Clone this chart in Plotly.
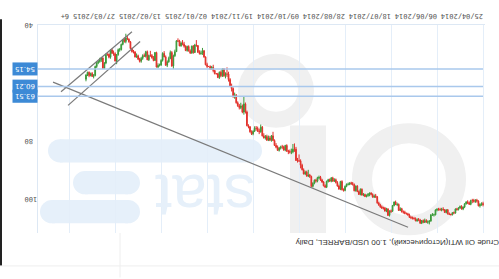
import plotly.graph_objects as go

# Daily WTI candles, index 0 = 25/04/2014 (weekday bars), last = 23/04/2015
closes = [
 100.6,100.8,101.3,99.7,99.4,99.8,99.5,99.5,100.8,100.3,
 100.0,100.6,101.7,102.4,101.5,102.0,102.6,102.4,103.8,103.7,
 104.4,104.3,104.1,102.7,103.6,102.7,102.5,102.7,102.6,102.5,
 102.7,104.4,104.4,104.4,106.5,106.9,106.9,106.4,107.0,106.4,
 107.3,106.2,106.0,106.5,105.8,105.7,105.4,105.3,104.5,104.1,
 104.0,103.5,103.4,102.3,102.9,100.8,100.9,100.0,101.2,103.2,
 103.1,104.6,102.4,103.1,102.1,102.1,101.7,101.0,100.3,98.2,
 97.9,98.3,97.4,96.9,97.3,97.7,98.1,97.4,97.6,95.6,
 97.4,96.4,94.5,96.1,94.0,93.7,93.4,93.9,93.9,94.6,
 96.0,95.8,92.9,95.5,94.5,93.3,92.3,92.8,91.7,92.8,
 92.3,92.9,94.9,94.4,93.1,92.4,91.5,91.6,92.8,92.5,
 93.5,94.6,91.2,90.7,91.0,89.7,90.3,88.9,87.3,85.8,
 85.8,85.7,81.8,81.8,82.7,82.8,82.7,82.5,80.5,82.1,
 81.0,81.0,81.4,82.2,81.1,80.5,78.8,77.2,78.7,77.9,
 78.7,77.4,77.9,77.2,74.2,75.8,75.6,74.6,74.6,75.6,
 76.5,75.8,74.1,73.7,69.0,66.2,69.0,66.9,67.4,66.8,
 65.8,63.1,63.8,60.9,60.0,57.8,55.9,55.9,56.5,54.1,
 56.5,55.3,57.1,55.8,55.8,54.7,53.6,54.1,53.3,53.3,
 52.7,50.0,47.9,48.7,48.8,48.4,46.1,45.9,48.5,46.3,
 48.7,48.0,46.4,47.8,46.3,45.6,45.2,46.2,44.5,44.5,
 48.2,49.6,53.1,48.5,50.5,51.7,52.9,50.0,48.8,51.2,
 52.8,52.9,53.5,48.5,51.2,50.3,49.5,49.5,51.0,48.2,
 49.8,49.6,50.5,51.5,50.8,49.6,50.0,48.3,48.2,47.1,
 44.8,43.9,43.5,44.7,44.0,45.7,47.5,47.5,49.2,51.4,
 48.9,48.7,47.6,50.1,49.1,49.1,52.1,54.0,50.4,50.8,
 51.6,51.9,53.3,56.4,56.7,55.7,56.4,55.3,56.2,57.7,
]
opens = [100.9] + closes[:-1]
highs = [
 101.5,101.3,101.9,101.5,100.2,100.3,100.2,100.4,101.1,101.0,
 100.7,100.9,102.1,102.8,102.6,102.3,102.9,103.0,104.0,104.2,
 104.6,104.6,104.5,104.3,103.9,103.7,103.0,103.2,103.0,103.0,
 103.2,104.6,105.0,104.8,106.8,107.7,107.5,107.2,107.2,107.3,
 107.6,107.5,106.6,106.8,106.6,106.0,106.0,105.9,105.4,104.7,
 104.3,104.2,104.0,103.6,103.1,103.0,101.4,101.0,101.5,103.4,
 103.8,105.0,104.8,103.5,103.3,102.6,102.4,102.0,101.3,100.6,
 98.6,98.6,98.5,97.7,98.0,98.2,98.4,98.3,98.0,97.8,
 97.7,97.5,96.6,96.4,96.3,94.3,94.1,94.2,94.3,94.9,
 96.3,96.4,96.0,95.9,95.8,94.7,93.6,93.1,93.0,93.2,
 93.1,93.3,95.2,95.1,94.6,93.4,92.7,92.1,93.2,93.3,
 93.9,95.0,94.8,91.7,91.4,91.3,90.7,90.5,89.1,88.4,
 86.2,86.4,85.8,82.7,83.2,83.5,83.3,83.5,82.7,82.5,
 82.3,81.7,81.9,82.6,82.4,81.5,80.7,79.0,79.2,79.0,
 79.0,78.9,78.5,78.1,77.4,76.1,76.6,75.8,75.4,75.9,
 77.0,76.9,76.1,74.6,73.9,69.5,69.9,69.4,68.0,68.1,
 67.2,66.1,64.4,64.0,61.9,60.3,58.5,56.9,57.4,56.9,
 56.9,57.0,57.6,57.3,56.0,56.0,55.3,54.4,54.5,53.5,
 53.8,52.9,50.3,49.3,49.3,49.2,48.6,46.5,48.6,48.9,
 48.8,48.9,48.1,48.2,48.0,46.8,46.0,46.5,46.3,44.9,
 48.3,50.0,54.2,53.4,50.8,52.0,53.5,53.0,50.1,51.6,
 53.1,53.3,53.9,53.6,51.4,51.5,50.6,50.0,51.4,51.1,
 50.2,50.0,51.0,52.0,51.9,51.0,50.3,50.2,48.8,48.5,
 47.3,45.1,44.2,45.3,45.1,46.0,47.8,48.2,49.6,52.5,
 51.6,49.6,49.0,50.6,50.5,49.6,52.5,54.2,54.2,51.7,
 52.0,52.5,53.8,56.7,57.4,56.9,56.7,57.0,56.6,58.4,
]
lows = [
 99.9,100.1,100.4,99.4,98.9,99.0,98.9,98.9,99.2,99.8,
 99.4,99.7,100.4,101.5,101.1,101.2,101.8,102.0,102.2,103.3,
 103.5,104.0,103.6,102.4,102.5,102.4,101.8,102.0,102.0,102.0,
 102.1,102.6,104.0,103.8,104.2,106.2,106.3,105.9,105.7,106.0,
 106.2,105.8,105.5,105.6,105.3,105.1,105.0,104.8,104.0,103.7,
 103.6,103.0,102.9,102.0,101.8,100.5,100.2,99.5,99.8,101.0,
 102.6,102.9,102.1,102.0,101.7,101.6,101.2,100.6,99.9,97.9,
 97.2,97.4,97.0,96.6,96.7,96.9,97.4,97.1,96.9,95.3,
 95.3,96.0,94.2,94.3,93.6,93.1,93.0,93.2,93.3,93.6,
 94.3,95.3,92.5,92.7,94.0,92.8,91.9,91.8,91.3,91.4,
 91.9,92.0,92.6,93.9,92.8,92.0,91.0,90.9,91.3,92.0,
 92.2,93.2,90.9,90.3,88.9,89.2,89.2,88.4,86.8,85.3,
 83.6,84.8,81.0,79.8,80.0,81.6,81.9,82.0,80.1,80.3,
 80.6,80.3,80.6,81.0,80.5,79.7,78.4,75.8,76.9,77.2,
 77.1,76.8,76.9,76.3,73.8,73.3,74.7,74.0,73.8,73.9,
 75.3,75.3,73.8,73.2,68.5,65.7,63.7,66.4,65.8,66.2,
 65.3,62.8,62.3,60.5,59.2,57.3,55.1,53.6,55.3,53.9,
 54.0,54.7,55.0,55.5,55.6,54.4,52.7,53.1,52.9,53.1,
 52.0,49.8,47.6,46.9,47.8,47.7,45.9,44.2,45.5,45.9,
 46.1,47.4,46.0,46.1,46.0,44.8,44.2,44.7,44.1,43.6,
 44.2,47.5,49.2,48.0,47.8,49.9,51.2,49.5,48.0,48.4,
 50.8,52.3,52.2,48.2,48.3,49.7,49.0,47.9,49.2,47.8,
 47.9,48.8,49.1,50.0,50.3,49.2,48.8,48.0,47.6,46.8,
 44.5,43.6,42.8,42.0,43.3,43.8,45.4,46.9,47.1,49.0,
 48.4,47.8,47.1,47.3,48.8,48.8,48.9,51.8,50.1,50.0,
 50.3,51.2,51.6,53.0,55.9,55.2,55.4,55.0,55.1,56.0,
]
bar_index = list(range(len(closes)))

# x-axis ticks (every 30 bars) and labels
tick_bars = [0, 30, 60, 90, 120, 150, 180, 210, 240, 270]
tick_labels = ["25/04/2014", "06/06/2014", "18/07/2014", "28/08/2014", "09/10/2014",
               "19/11/2014", "02/01/2015", "13/02/2015", "27/03/2015", "6+"]
price_ticks = [40, 80, 100]

# horizontal levels
levels = [54.15, 60.21, 63.51]
level_labels = ["54.15", "60.21", "63.51"]

# trend lines (bar index, price)
trend_long_x = [280.5, 48.9]
trend_long_y = [58.7, 108.7]
chan_up_x = [275.3, 229.0]
chan_up_y = [62.0, 41.3]
chan_lo_x = [270.7, 223.7]
chan_lo_y = [66.7, 44.7]

title_text = "Crude Oil WTI(Исторический), 1.00 USD/BARREL, Daily"

ROT = 180  # whole chart is shown upside down

W, H = 499, 279
ML, MR, MT, MB = 38, 14, 18, 46
PW, PH = W - ML - MR, H - MT - MB


def px(x):
    return (x - ML) / PW


def py(y):
    return (H - MB - y) / PH


fig = go.Figure()

# watermark shapes
wm_blue = "#e6f0fa"
wm_gray = "#f0f0f0"
shapes = []


def rounded_bar(x0, x1, y0, y1, color):
    r = (y1 - y0) / 2
    shapes.append(dict(type="rect", xref="paper", yref="paper", x0=px(x0 + r), x1=px(x1 - r),
                       y0=py(y1), y1=py(y0), fillcolor=color, line_width=0, layer="below"))
    for cx in (x0 + r, x1 - r):
        shapes.append(dict(type="circle", xref="paper", yref="paper", x0=px(cx - r), x1=px(cx + r),
                           y0=py(y1), y1=py(y0), fillcolor=color, line_width=0, layer="below"))


rounded_bar(48, 262, 136, 160, wm_blue)
rounded_bar(73, 140, 169, 193, wm_blue)
rounded_bar(40, 140, 199, 223, wm_blue)
# gray "O" ring
shapes.append(dict(type="circle", xref="paper", yref="paper", x0=px(362), x1=px(456), y0=py(225), y1=py(130),
                   fillcolor="rgba(0,0,0,0)", line=dict(color=wm_gray, width=20), layer="below"))
# gray "i"/"l" parts
shapes.append(dict(type="rect", xref="paper", yref="paper", x0=px(290), x1=px(326), y0=py(233), y1=py(122),
                   fillcolor=wm_gray, line_width=0, layer="below"))
shapes.append(dict(type="circle", xref="paper", yref="paper", x0=px(246), x1=px(306), y0=py(116), y1=py(56),
                   fillcolor="rgba(0,0,0,0)", line=dict(color=wm_gray, width=16), layer="below"))

# levels
for lv in levels:
    shapes.append(dict(type="line", xref="x", yref="y", x0=290.3, x1=0, y0=lv, y1=lv,
                       line=dict(color="#a9c8ec", width=1.5)))
# frame pieces outside plot
shapes.append(dict(type="rect", xref="paper", yref="paper", x0=px(0), x1=px(2), y0=py(267), y1=py(12),
                   fillcolor="#222", line_width=0))
shapes.append(dict(type="line", xref="paper", yref="paper", x0=px(0), x1=px(499), y0=py(267), y1=py(267),
                   line=dict(color="#eeeeee", width=1)))
shapes.append(dict(type="line", xref="paper", yref="paper", x0=px(120), x1=px(120), y0=py(279), y1=py(233),
                   line=dict(color="#eeeeee", width=1)))

annotations = [
    dict(text="stat", xref="paper", yref="paper", x=px(205), y=py(196), showarrow=False, textangle=ROT,
         font=dict(family="Liberation Sans", size=62, color=wm_blue), xanchor="center", yanchor="middle"),
    dict(text=title_text, xref="paper", yref="paper", x=px(398), y=py(243), showarrow=False, textangle=ROT,
         font=dict(family="Liberation Sans", size=8, color="#333"), xanchor="center", yanchor="middle"),
]
for lv, lab in zip(levels, level_labels):
    annotations.append(dict(text=lab, xref="paper", yref="y", x=px(25.5), y=lv, showarrow=False, textangle=ROT,
                            font=dict(family="DejaVu Sans", size=7, color="white"), bgcolor="#3d8ad6",
                            borderpad=2, xanchor="center", yanchor="middle"))

fig.add_trace(go.Candlestick(
    x=bar_index, open=opens, high=highs, low=lows, close=closes,
    increasing=dict(line=dict(color="#3b9b3b", width=1), fillcolor="#3b9b3b"),
    decreasing=dict(line=dict(color="#e2312b", width=1), fillcolor="#e2312b"),
    whiskerwidth=0, showlegend=False, hoverinfo="skip"))

for tx, ty in ((trend_long_x, trend_long_y), (chan_up_x, chan_up_y), (chan_lo_x, chan_lo_y)):
    fig.add_trace(go.Scatter(x=tx, y=ty, mode="lines", line=dict(color="#7a7a7a", width=1.2),
                             showlegend=False, hoverinfo="skip"))

fig.update_layout(
    width=W, height=H, margin=dict(l=ML, r=MR, t=MT, b=MB),
    paper_bgcolor="white", plot_bgcolor="rgba(0,0,0,0)",
    shapes=shapes, annotations=annotations, showlegend=False,
    xaxis=dict(range=[290.3, -1.3], side="top", tickvals=tick_bars, ticktext=tick_labels, tickangle=ROT,
               showgrid=True, gridcolor="#e4eef9", gridwidth=1, zeroline=False, showline=True,
               linecolor="#dde8f4", ticks="", tickfont=dict(family="DejaVu Sans Mono", size=7, color="#555"),
               rangeslider=dict(visible=False), fixedrange=True),
    yaxis=dict(range=[110.67, 39.0], side="left", tickvals=price_ticks, ticktext=[str(v) for v in price_ticks],
               tickangle=ROT, showgrid=False, zeroline=False, showline=True, linecolor="#dde8f4", ticks="",
               ticklabelstandoff=11,
               tickfont=dict(family="DejaVu Sans Mono", size=7, color="#555"), fixedrange=True),
)

fig.write_html("out.html")
